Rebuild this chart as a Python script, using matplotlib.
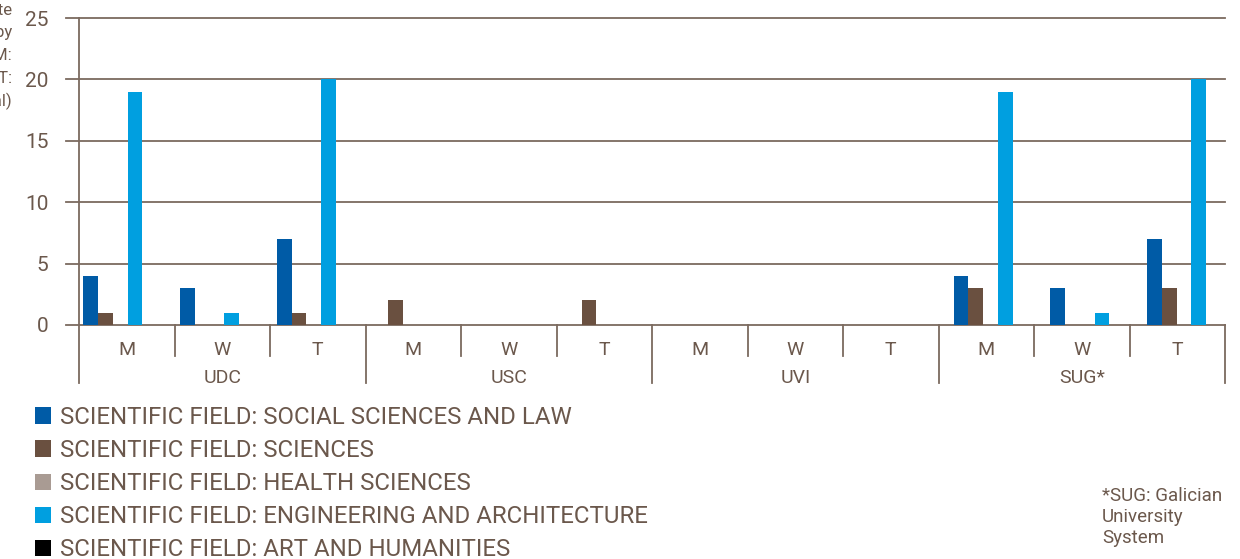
import matplotlib
matplotlib.use("Agg")
import matplotlib.pyplot as plt
import matplotlib.transforms as mtrans
import numpy as np

plt.rcParams['font.family'] = ['Roboto', 'DejaVu Sans']

# データ
groups = ["UDC", "USC", "UVI", "SUG*"]
subgroups = ["M", "W", "T"]
series_names = [
    "SCIENTIFIC FIELD: SOCIAL SCIENCES AND LAW",
    "SCIENTIFIC FIELD: SCIENCES",
    "SCIENTIFIC FIELD: HEALTH SCIENCES",
    "SCIENTIFIC FIELD: ENGINEERING AND ARCHITECTURE",
    "SCIENTIFIC FIELD: ART AND HUMANITIES",
]
social = [4, 3, 7, 0, 0, 0, 0, 0, 0, 4, 3, 7]
sciences = [1, 0, 1, 2, 0, 2, 0, 0, 0, 3, 0, 3]
health = [0, 0, 0, 0, 0, 0, 0, 0, 0, 0, 0, 0]
engineering = [19, 1, 20, 0, 0, 0, 0, 0, 0, 19, 1, 20]
art = [0, 0, 0, 0, 0, 0, 0, 0, 0, 0, 0, 0]
yticks = [0, 5, 10, 15, 20, 25]

colors = ["#005ba6", "#6a5040", "#a99b93", "#009fe0", "#000000"]
txt_color = "#6b584c"
line_color = "#7b6a5f"

W, H = 1240, 559
fig = plt.figure(figsize=(W / 100, H / 100), dpi=100)
ax_l, ax_r, ax_t, ax_b = 79, 1225, 18, 325
ax = fig.add_axes([ax_l / W, 1 - ax_b / H, (ax_r - ax_l) / W, (ax_b - ax_t) / H])

n = len(social)
x = np.arange(n)
w = 0.152
handles = []
for i, vals in enumerate([social, sciences, health, engineering, art]):
    b = ax.bar(x + (i - 2) * w - 0.06, vals, width=w, color=colors[i], zorder=3)
    handles.append(b)

# バーの間隔はカテゴリ区切りより少し広い
ax.set_xlim(-0.486, 11.365)
ax.set_ylim(0, 25)
ax.set_yticks(yticks)
ax.set_yticklabels([str(t) for t in yticks], fontsize=15, color=txt_color)
ax.tick_params(axis='y', length=0, pad=22)
ax.set_xticks([])
for s in ["top", "right", "bottom", "left"]:
    ax.spines[s].set_visible(False)

# グリッド線 (軸の左まで伸ばす)
gtrans = mtrans.blended_transform_factory(ax.transAxes, ax.transData)
for t in yticks:
    ax.plot([-13 / (ax_r - ax_l), 1], [t, t], color=line_color, lw=1.3,
            transform=gtrans, clip_on=False, zorder=2)

# 縦線 (カテゴリ区切り)
h_px = ax_b - ax_t
for k in range(n + 1):
    xf = k / n
    if k % 3 == 0:
        y0 = -(383 - ax_b) / h_px
        top = 1.0 if k == 0 else 0.0
    else:
        y0 = -(356 - ax_b) / h_px
        top = 0.0
    ax.plot([xf, xf], [y0, top], color=line_color, lw=1.3, transform=ax.transAxes,
            clip_on=False, zorder=2)

# ラベル
for k in range(n):
    ax.text((k + 0.5) / n, -(350 - ax_b) / h_px, subgroups[k % 3], transform=ax.transAxes,
            ha='center', va='center', fontsize=14, color=txt_color)
for g, name in enumerate(groups):
    ax.text((g * 3 + 1.5) / n, -(378 - ax_b) / h_px, name, transform=ax.transAxes,
            ha='center', va='center', fontsize=14, color=txt_color)

# 凡例
leg = fig.legend(handles, series_names, loc='upper left', bbox_to_anchor=(35 / W, 1 - 406 / H),
                 frameon=False, fontsize=17.3, handlelength=0.68, handleheight=0.68,
                 handletextpad=0.35, labelspacing=0.42, borderaxespad=0, borderpad=0)
for t in leg.get_texts():
    t.set_color(txt_color)

# 注記
fig.text(1102 / W, 1 - 487 / H, "*SUG: Galician\nUniversity\nSystem", ha='left', va='top',
         fontsize=13.5, color=txt_color, linespacing=1.2)

# 切れた軸ラベル
fig.text(12 / W, 1 - 3 / H,
         "Theses with international doctorate\nmention, by\nscientific field and gender (M:\nMen, W: Women, T:\nTotal)",
         ha='right', va='top', fontsize=12, color=txt_color, linespacing=1.55)

fig.savefig("out.png", dpi=100)
